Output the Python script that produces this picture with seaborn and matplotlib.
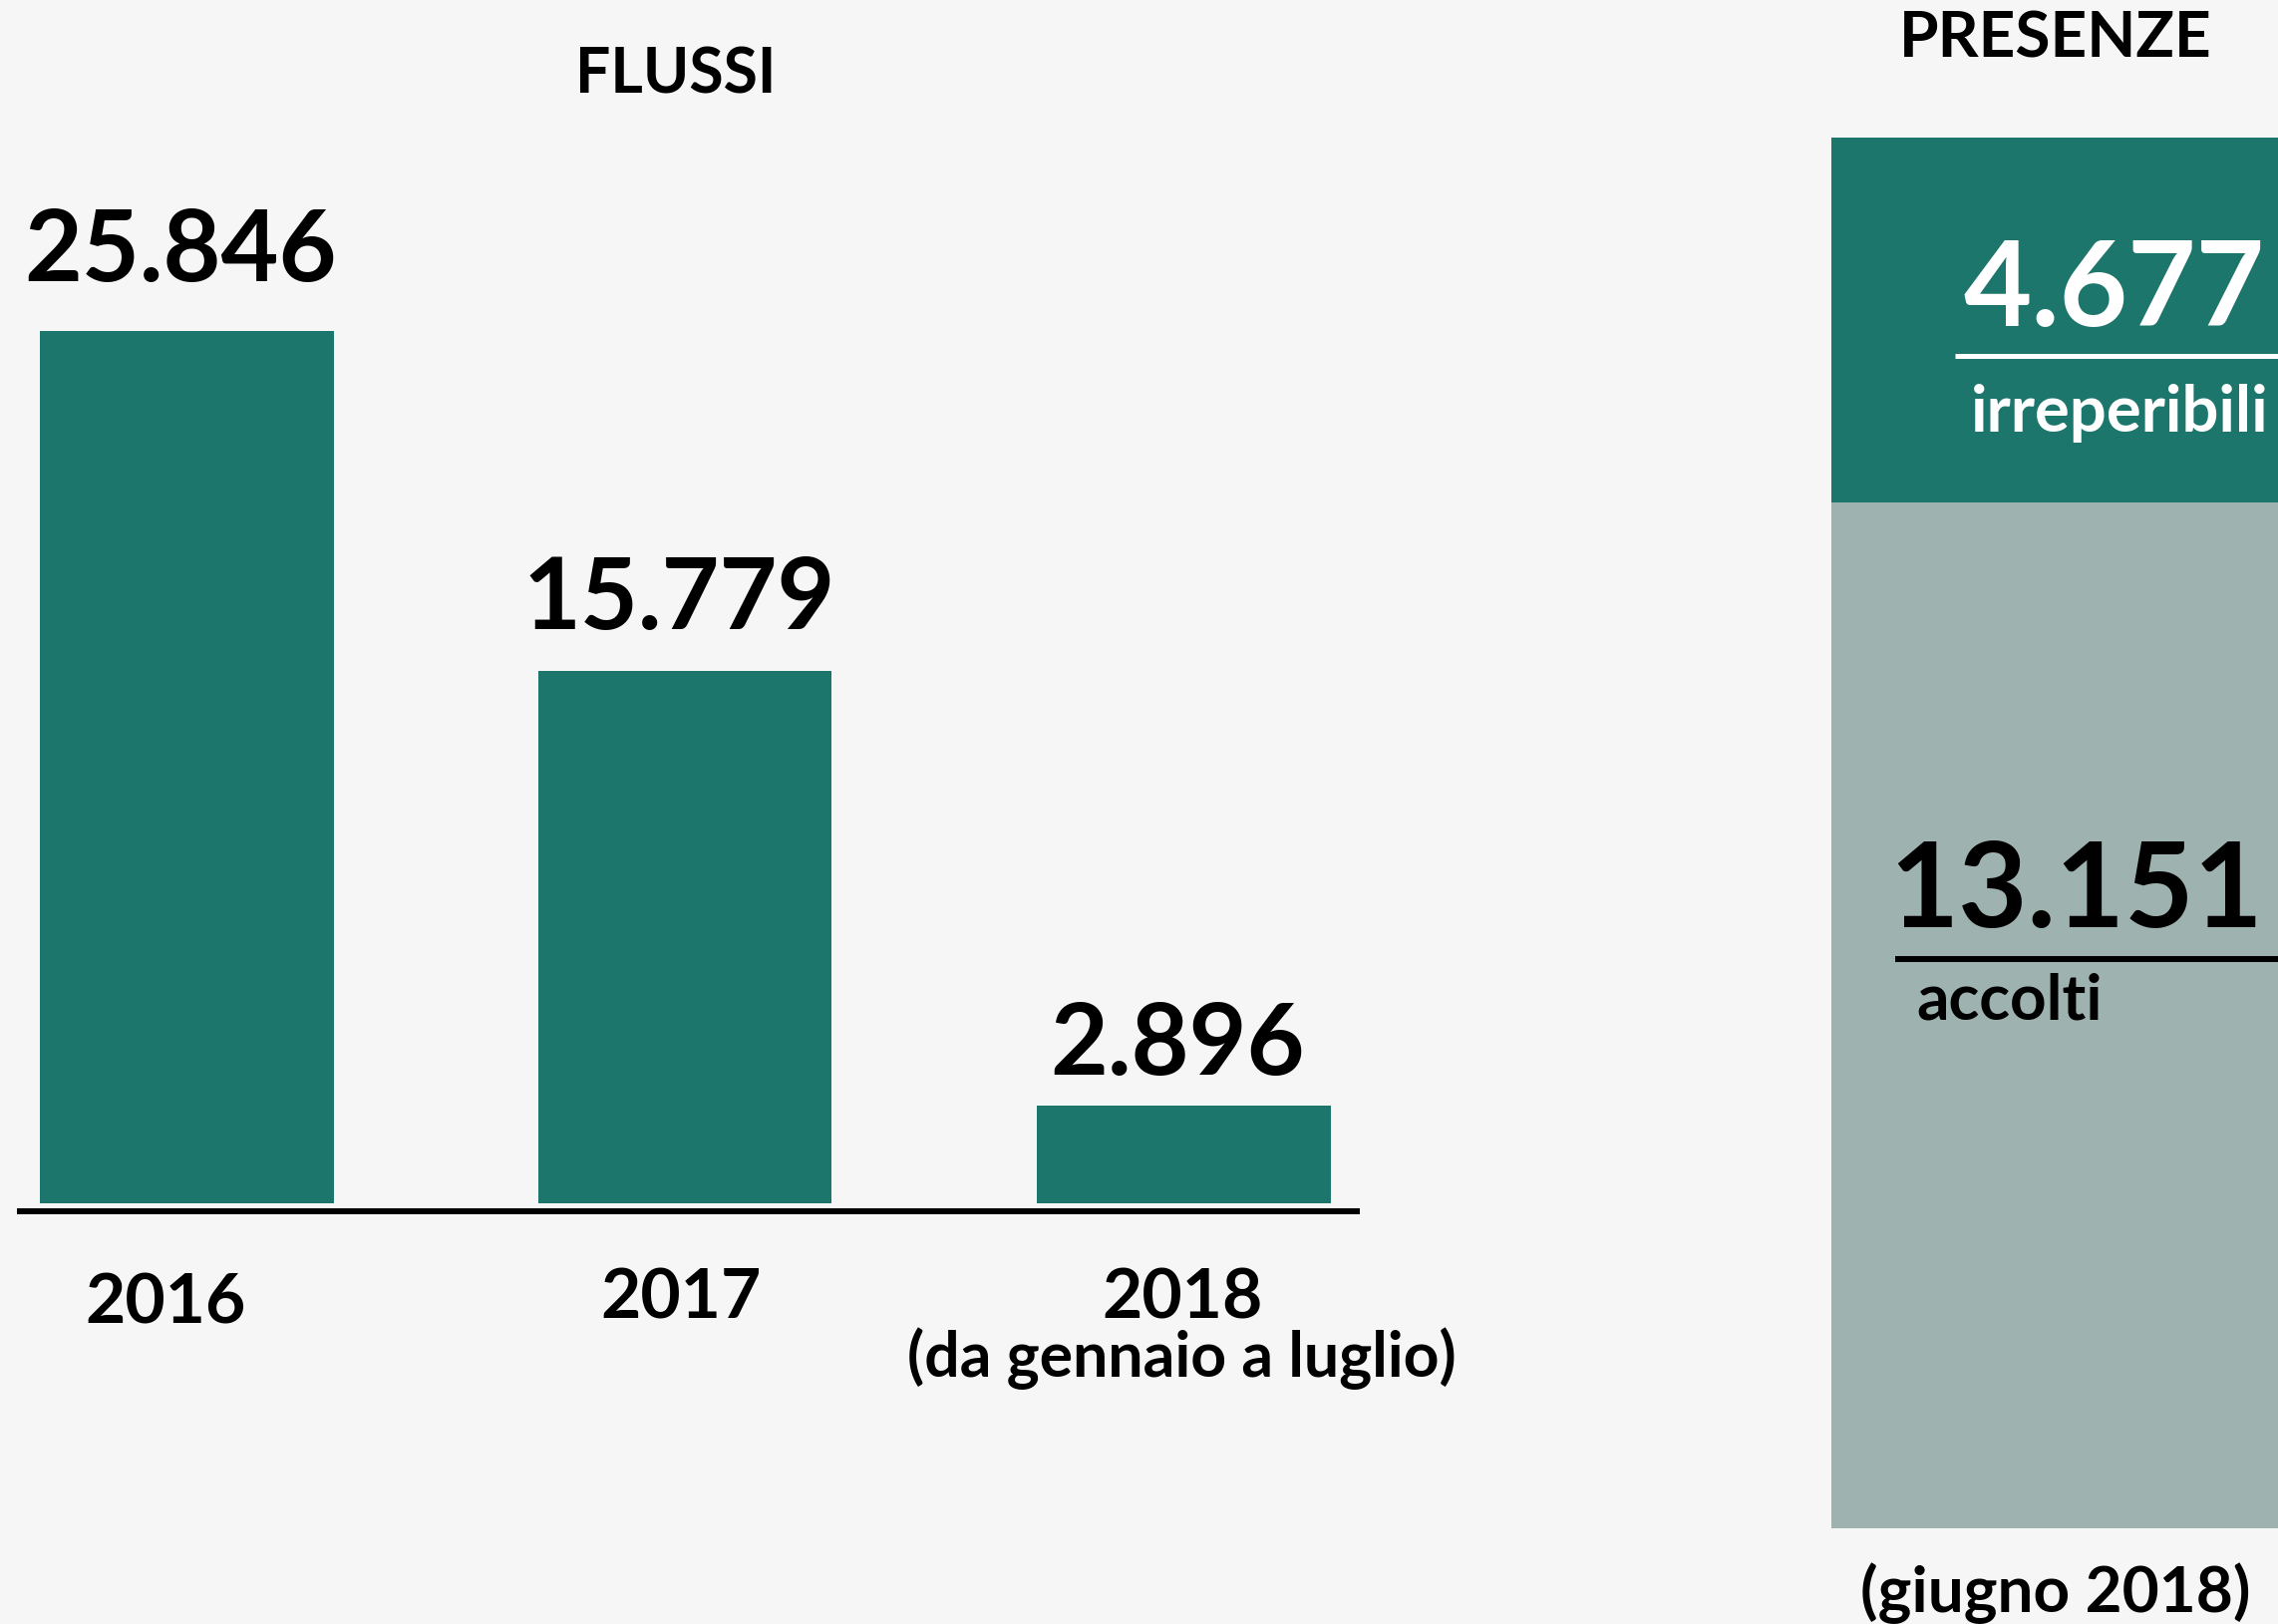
import matplotlib
matplotlib.use("Agg")
import matplotlib.pyplot as plt
import pandas as pd
import seaborn as sns

# --- dati ---
anni = ["2016", "2017", "2018"]
flussi = [25846, 15779, 2896]
flussi_etichette = ["25.846", "15.779", "2.896"]
nota_2018 = "(da gennaio a luglio)"

presenze_voci = ["irreperibili", "accolti"]
presenze = [4677, 13151]
presenze_etichette = ["4.677", "13.151"]
nota_presenze = "(giugno 2018)"

TEAL = "#1d766b"
GRIGIO = "#9eb3b0"
SFONDO = "#f6f6f6"

W, H = 2285, 1629

sns.set_theme(style="white")
plt.rcParams["font.family"] = ["Lato", "DejaVu Sans"]
plt.rcParams["text.color"] = "black"

fig = plt.figure(figsize=(W / 100, H / 100), dpi=100, facecolor=SFONDO)


def box(x0, y0, x1, y1):
    # pixel box (top-left origin) -> figure fraction rect
    return [x0 / W, 1 - y1 / H, (x1 - x0) / W, (y1 - y0) / H]


def ftext(x, y, s, **kw):
    fig.text(x / W, 1 - y / H, s, **kw)


# --- FLUSSI ---
ax = fig.add_axes(box(17, 0, 1364, 1207))
ax.set_facecolor(SFONDO)
df = pd.DataFrame({"anno": anni, "flussi": flussi})
sns.barplot(data=df, x="anno", y="flussi", color=TEAL, saturation=1,
            width=0.59, linewidth=0, ax=ax)
ax.set_xlim(-0.34, 2.354)
ax.set_ylim(0, 1207 / 0.03386)
ax.set_xticks([])
ax.set_yticks([])
ax.set_xlabel("")
ax.set_ylabel("")
for s in ["top", "left", "right"]:
    ax.spines[s].set_visible(False)
ax.spines["bottom"].set_color("black")
ax.spines["bottom"].set_linewidth(4.3)
ax.spines["bottom"].set_position(("outward", 6))
ax.spines["bottom"].set_capstyle("butt")

# piccoli spostamenti delle etichette come nell'originale
dy_valori = [36, 30, 22]
dx_anni = [-15, -3, -1]
for i, (v, lab) in enumerate(zip(flussi, flussi_etichette)):
    ax.annotate(lab, (i, v), xytext=(-4, dy_valori[i]), textcoords="offset points",
                ha="center", va="baseline", fontsize=72, fontweight="bold")
    ax.annotate(anni[i], (i, 0), xytext=(dx_anni[i], -69 - (4 if i == 0 else 0)),
                textcoords="offset points",
                ha="center", va="center", fontsize=50, fontweight="bold")
ax.annotate(nota_2018, (2, 0), xytext=(-1, -112), textcoords="offset points",
            ha="center", va="center", fontsize=45, fontweight="bold")

ftext(678, 76, "FLUSSI", ha="center", va="center", fontsize=45, fontweight="bold")

# --- PRESENZE ---
ax2 = fig.add_axes(box(1837, 138, 2285, 1533))
ax2.set_facecolor(SFONDO)
totale = sum(presenze)
sns.barplot(x=["presenze"], y=[totale], color=TEAL, saturation=1,
            width=1, linewidth=0, ax=ax2)
sns.barplot(x=["presenze"], y=[presenze[1]], color=GRIGIO, saturation=1,
            width=1, linewidth=0, ax=ax2)
ax2.set_xlim(-0.5, 0.5)
ax2.set_ylim(0, totale)
ax2.axis("off")

ax2.plot([0.277, 1], [0.8427, 0.8427], transform=ax2.transAxes,
         color="white", lw=3.6, solid_capstyle="butt")
ax2.plot([0.143, 1], [0.4093, 0.4093], transform=ax2.transAxes,
         color="black", lw=4.3, solid_capstyle="butt")

ftext(2272, 327, presenze_etichette[0], ha="right", va="baseline",
      fontsize=85, fontweight="bold", color="white")
ftext(2275, 433, presenze_voci[0], ha="right", va="baseline",
      fontsize=47, fontweight="bold", color="white")
ftext(2270, 930, presenze_etichette[1], ha="right", va="baseline",
      fontsize=86, fontweight="bold", color="black")
ftext(1922, 1023, presenze_voci[1], ha="left", va="baseline",
      fontsize=46, fontweight="bold", color="black")

ftext(2062, 39, "PRESENZE", ha="center", va="center", fontsize=46, fontweight="bold")
ftext(2062, 1617, nota_presenze, ha="center", va="baseline", fontsize=46, fontweight="bold")

fig.savefig("out.png", dpi=100, facecolor=SFONDO)
